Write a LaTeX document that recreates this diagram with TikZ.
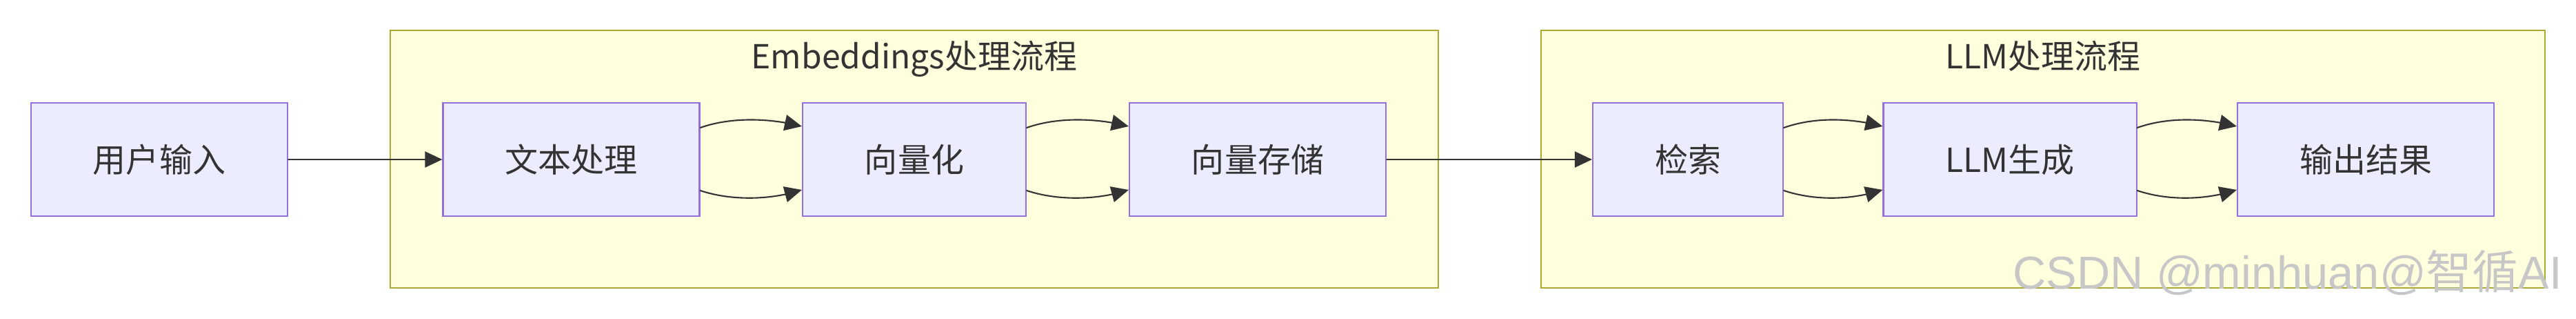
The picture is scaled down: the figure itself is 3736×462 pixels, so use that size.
\documentclass[tikz,border=0pt]{standalone}
\usepackage{fontspec}
\setmainfont{Noto Sans CJK SC}
\newfontfamily\cjk{Noto Sans CJK SC}
\newfontfamily\wmfont{Liberation Sans}
\usetikzlibrary{arrows.meta,bending}
\definecolor{boxfill}{HTML}{ECECFF}
\definecolor{boxline}{HTML}{9370DB}
\definecolor{grpfill}{HTML}{FFFFDE}
\definecolor{grpline}{HTML}{AAAA33}
\definecolor{ink}{HTML}{333333}

\begin{document}
\begin{tikzpicture}[x=.1mm,y=.1mm,>={Triangle[length=2.5mm,width=2.3mm]},line cap=round,
    font=\fontsize{13.66}{16}\selectfont,text=ink,
    procbox/.style={draw=boxline,fill=boxfill,line width=.6pt,minimum height=16.4mm,inner xsep=9mm,inner ysep=0pt},
    grp/.style={draw=grpline,fill=grpfill,line width=.6pt,minimum height=37.3mm},
    link/.style={draw=ink,line width=.6pt}]
    \useasboundingbox (0,0) rectangle (3736,462);
    % subgraphs
    \node[grp,minimum width=152mm] (emb) at (1326,231.5) {};
    \node[grp,minimum width=145.6mm] (llm) at (2963,231.5) {};
    \node[anchor=base] (embtitle) at ([yshift=-5.7mm]emb.north) {Embeddings处理流程};
    \node[anchor=base] (llmtitle) at ([yshift=-5.7mm]llm.north) {LLM处理流程};
    % steps
    \node[procbox] (in) at (231,231) {用户输入};
    \node[procbox] (txt) at (828.5,231) {文本处理};
    \node[procbox] (vec) at (1326,231) {向量化};
    \node[procbox] (store) at (1824,231) {向量存储};
    \node[procbox] (ret) at (2448,231) {检索};
    \node[procbox] (gen) at (2915,231) {LLM生成};
    \node[procbox] (out) at (3431,231) {输出结果};
    \draw[->,link] (in) -- (txt);
    \draw[->,link] (store) -- (ret);
    \foreach \a/\b in {txt/vec,vec/store,ret/gen,gen/out}{
        \draw[->,link] ([yshift=4.6mm]\a.east) .. controls +(45,16) and +(-45,12) .. ([yshift=4.8mm]\b.west);
        \draw[->,link] ([yshift=-4.5mm]\a.east) .. controls +(45,-15) and +(-45,-15) .. ([yshift=-4.4mm]\b.west);
    }
    \node[anchor=base east,text=black!22,font=\wmfont\fontsize{19}{22}\selectfont] (mark) at (3728,43) {CSDN @minhuan@{\cjk 智循}AI};
\end{tikzpicture}
\end{document}
